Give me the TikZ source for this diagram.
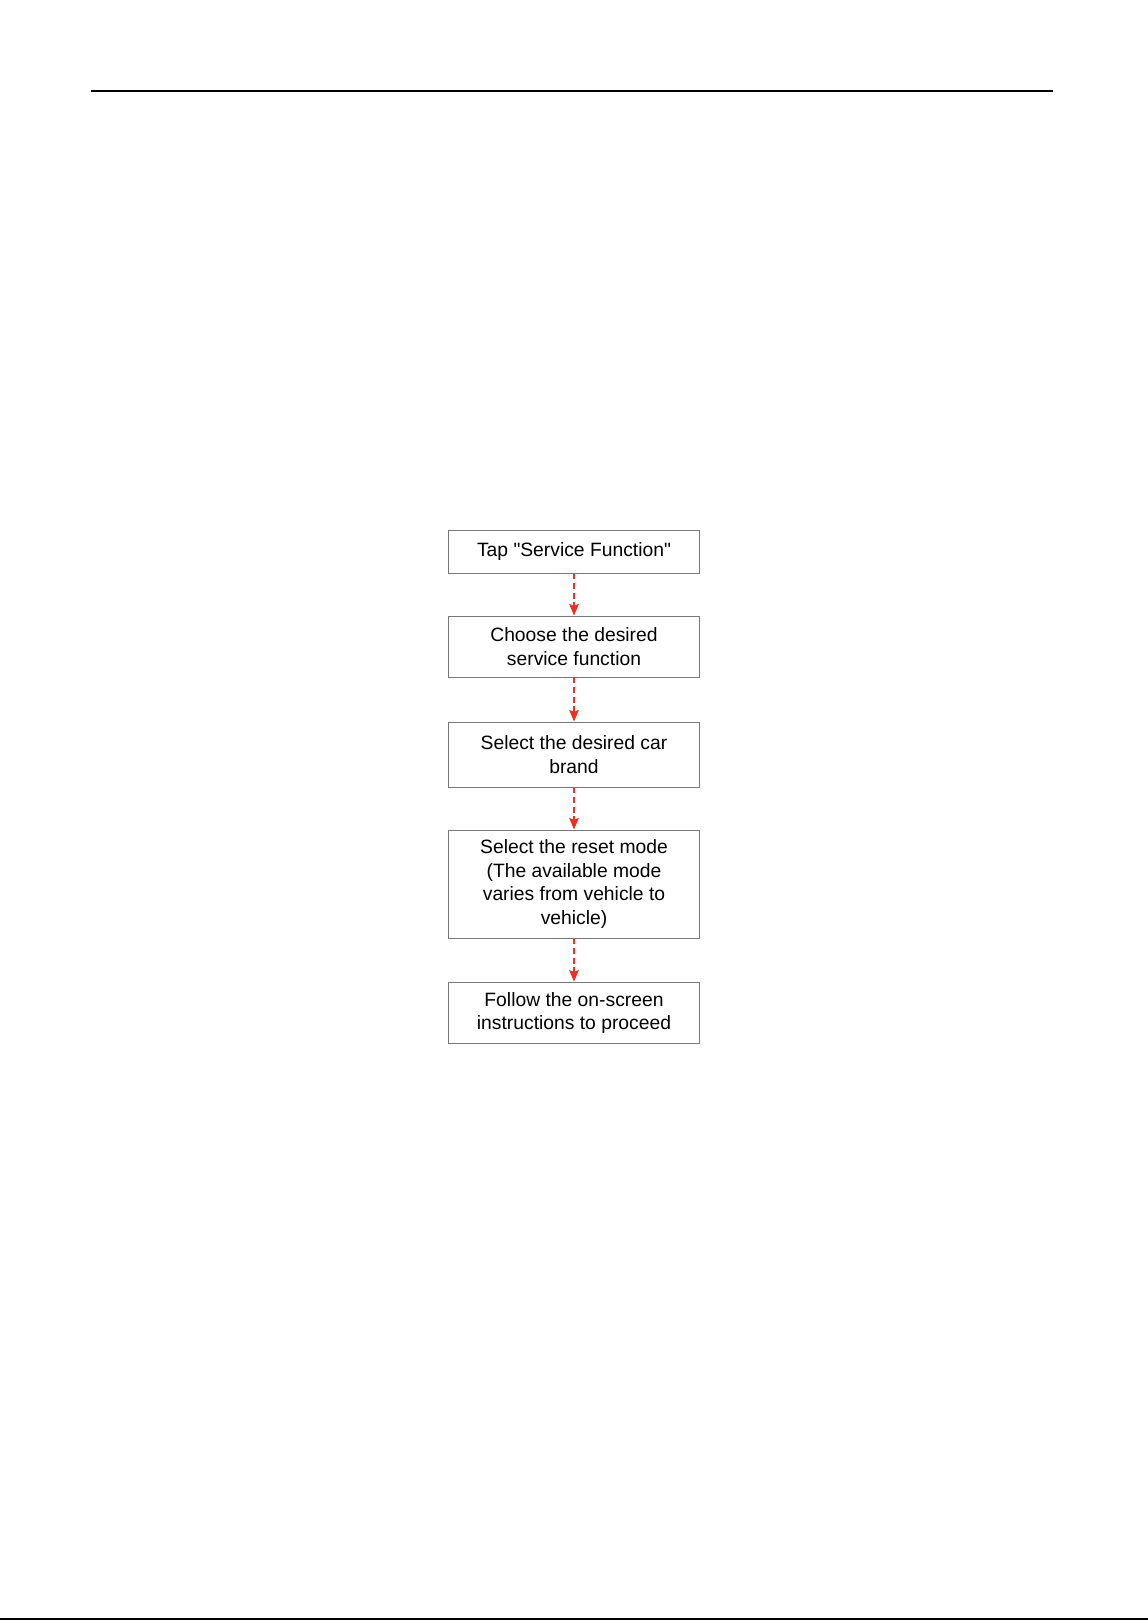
\documentclass[tikz,border=0pt]{standalone}
\usepackage{fontspec}
\setmainfont{Liberation Sans}[Ligatures=TeXOff]
\usepackage{tikz}
\usetikzlibrary{positioning}
\usetikzlibrary{arrows.meta}

\definecolor{boxgray}{RGB}{120,120,120}
\definecolor{arrred}{RGB}{232,50,35}

\tikzset{
  krok/.style={draw=boxgray, line width=0.5pt, minimum width=129.6pt, align=center,
               inner sep=0pt, font=\fontsize{10}{12.1}\selectfont},
  strz/.style={arrred, line width=0.6pt, dash pattern=on 3pt off 2pt,
               -{Stealth[length=6pt,width=5pt,inset=1pt]}}
}

\begin{document}
\begin{tikzpicture}[x=0.5183pt,y=-0.5183pt]
\useasboundingbox (0,0) rectangle (1148,1621);

%linie strony
\draw[line width=1pt] (91,91) -- (1053,91);
\draw[line width=1.2pt] (0,1619) -- (1148,1619);

%kroki
\node[krok, minimum height=21.8pt] (tap) at (574,552) {Tap "Service Function"};
\node[krok, minimum height=31.6pt] (choose) at (574,646.5) {Choose the desired\\service function};
\node[krok, minimum height=33.7pt] (brand) at (574,754.5) {Select the desired car\\brand};
\node[krok, minimum height=56pt] (mode) at (574,884) {Select the reset mode\\(The available mode\\varies from vehicle to\\vehicle)};
\node[krok, minimum height=32pt] (follow) at (574,1013) {Follow the on-screen\\instructions to proceed};

%strzalki
\draw[strz] (tap) -- (choose);
\draw[strz] (choose) -- (brand);
\draw[strz] (brand) -- (mode);
\draw[strz] (mode) -- (follow);

%end
\end{tikzpicture}
\end{document}
